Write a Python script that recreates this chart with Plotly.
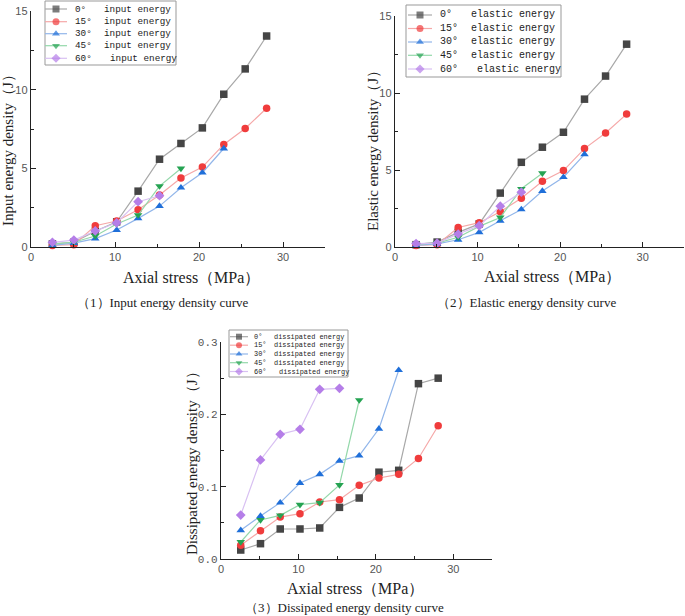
import plotly.graph_objects as go

W, H = 685, 616

stress = [2.55, 5.1, 7.65, 10.2, 12.75, 15.3, 17.85, 20.4, 22.95, 25.5, 28.05]
angles = ["0°", "15°", "30°", "45°", "60°"]

input_0 = [0.20, 0.30, 1.00, 1.60, 3.55, 5.58, 6.58, 7.57, 9.71, 11.32, 13.41]
input_15 = [0.10, 0.15, 1.35, 1.65, 2.37, 3.30, 4.38, 5.08, 6.52, 7.53, 8.82]
input_30 = [0.10, 0.25, 0.53, 1.08, 1.82, 2.60, 3.77, 4.72, 6.26]
input_45 = [0.20, 0.30, 0.70, 1.46, 2.03, 3.87, 4.99]
input_60 = [0.30, 0.44, 1.02, 1.54, 2.88, 3.26]

elastic_0 = [0.15, 0.32, 0.95, 1.50, 3.50, 5.50, 6.48, 7.45, 9.60, 11.10, 13.17]
elastic_15 = [0.10, 0.15, 1.27, 1.58, 2.29, 3.17, 4.27, 4.96, 6.39, 7.40, 8.63]
elastic_30 = [0.10, 0.20, 0.47, 0.95, 1.70, 2.44, 3.63, 4.53, 6.02]
elastic_45 = [0.20, 0.25, 0.63, 1.34, 1.92, 3.78, 4.79]
elastic_60 = [0.22, 0.25, 0.84, 1.38, 2.65, 3.56]

dissip_0 = [0.0124, 0.0212, 0.0415, 0.0415, 0.0429, 0.0714, 0.0843, 0.120, 0.1226, 0.2424, 0.250]
dissip_15 = [0.019, 0.039, 0.058, 0.0627, 0.0788, 0.082, 0.1018, 0.112, 0.117, 0.139, 0.1843]
dissip_30 = [0.0396, 0.0594, 0.0779, 0.105, 0.117, 0.1355, 0.1429, 0.180, 0.261]
dissip_45 = [0.0235, 0.054, 0.0604, 0.0751, 0.0779, 0.1023, 0.2198]
dissip_60 = [0.0608, 0.1369, 0.1724, 0.1793, 0.2346, 0.236]

x_ticks = [0, 10, 20, 30]
captions = ["（1）Input energy density curve", "（2）Elastic energy density curve",
            "（3）Dissipated energy density curve"]
y_titles = ["Input energy density（J）", "Elastic energy density（J）",
            "Dissipated energy density（J）"]
x_title = "Axial stress（MPa）"

marker_colors = ["#454545", "#f03c3c", "#1f6fd9", "#25a352", "#b57ee8"]
line_colors = ["#a8a8a8", "#f5a8a8", "#92b6ea", "#94d8aa", "#d8c0f2"]
symbols = ["square", "circle", "triangle-up", "triangle-down", "diamond"]


def px_x(p):
    return p / W


def px_y(p):
    return 1 - p / H


fig = go.Figure()

panels = [
    dict(series=[input_0, input_15, input_30, input_45, input_60], word="input energy",
         xd=[31, 325], yd=[247, 11], yr=[0, 15], ydt=5, yminor=2.5, yfmt=None, ax="", msize=7.5,
         leg=dict(box=[45, 1, 176, 65], rows=[9, 21.7, 33.7, 45.7, 58.3], line=[45, 67], mk=56,
                  tx1=73, tx2=102, tx2b=108, fs=9.3, ms=7)),
    dict(series=[elastic_0, elastic_15, elastic_30, elastic_45, elastic_60], word="elastic energy",
         xd=[395, 684], yd=[247, 16], yr=[0, 15], ydt=5, yminor=2.5, yfmt=None, ax="2", msize=7.5,
         leg=dict(box=[406, 5, 561, 77], rows=[15, 28.5, 42, 55.3, 69], line=[408, 432], mk=420,
                  tx1=438, tx2=469, tx2b=475, fs=10, ms=7)),
    dict(series=[dissip_0, dissip_15, dissip_30, dissip_45, dissip_60], word="dissipated energy",
         xd=[221, 492], yd=[559, 342], yr=[0, 0.3], ydt=0.1, yminor=0.05, yfmt=".1f", ax="3", msize=7.5,
         leg=dict(box=[229, 330, 348, 377], rows=[336.7, 345.2, 354, 362.7, 371.5], line=[230, 248],
                  mk=239, tx1=252, tx2=272, tx2b=277, fs=6.9, ms=6)),
]

layout_extra = {}
shapes = []
annotations = []

for p in panels:
    for i, vals in enumerate(p["series"]):
        fig.add_trace(go.Scatter(
            x=stress[:len(vals)], y=vals, mode="lines+markers",
            name=f"{angles[i]} {p['word']}",
            xaxis="x" + p["ax"], yaxis="y" + p["ax"], showlegend=False,
            line=dict(color=line_colors[i], width=1.2),
            marker=dict(symbol=symbols[i], color=marker_colors[i], size=p["msize"],
                        line=dict(width=0)),
            cliponaxis=False,
        ))
    common_axis = dict(showline=True, linecolor="#222", linewidth=1.2, ticks="inside",
                       tickcolor="#222", showgrid=False, zeroline=False, automargin=False,
                       tickfont=dict(family="Liberation Sans", size=11, color="#555"))
    layout_extra["xaxis" + p["ax"]] = dict(
        common_axis, domain=[px_x(p["xd"][0]), px_x(p["xd"][1])], range=[0, 35],
        anchor="y" + p["ax"], tickvals=x_ticks, ticklen=5,
        minor=dict(tickvals=[5, 15, 25, 35], ticklen=3, ticks="inside", tickcolor="#222"))
    yax = dict(common_axis, domain=[px_y(p["yd"][0]), px_y(p["yd"][1])], range=p["yr"],
               anchor="x" + p["ax"], dtick=p["ydt"], tick0=0, ticklen=5,
               minor=dict(dtick=p["yminor"], ticklen=3, ticks="inside", tickcolor="#222"))
    if p["yfmt"]:
        yax["tickformat"] = p["yfmt"]
        yax["tickfont"] = dict(family="Liberation Mono", size=11, color="#555")
    layout_extra["yaxis" + p["ax"]] = yax

    # compact legend box (Origin style)
    lg = p["leg"]
    b = lg["box"]
    shapes.append(dict(type="rect", xref="paper", yref="paper", layer="below",
                       x0=px_x(b[0]), x1=px_x(b[2]), y0=px_y(b[3]), y1=px_y(b[1]),
                       line=dict(color="#999", width=1), fillcolor="rgba(0,0,0,0)"))
    for i in range(5):
        ry = lg["rows"][i]
        fig.add_trace(go.Scatter(
            x=[lg["line"][0], lg["mk"], lg["line"][1]], y=[ry, ry, ry], mode="lines+markers",
            xaxis="x4", yaxis="y4", showlegend=False, hoverinfo="skip",
            line=dict(color=line_colors[i], width=1.2),
            marker=dict(symbol=symbols[i], color=marker_colors[i], size=[0, lg["ms"], 0],
                        line=dict(width=0)),
            cliponaxis=False,
        ))
        for tx, txt in [(lg["tx1"], angles[i]), (lg["tx2b"] if i == 4 else lg["tx2"], p["word"])]:
            annotations.append(dict(x=px_x(tx), y=px_y(ry), xref="paper", yref="paper", text=txt,
                                    showarrow=False, xanchor="left", yanchor="middle",
                                    font=dict(family="Liberation Mono", size=lg["fs"], color="#222")))

layout_extra["xaxis4"] = dict(domain=[0, 1], range=[0, W], visible=False, anchor="y4",
                              fixedrange=True)
layout_extra["yaxis4"] = dict(domain=[0, 1], range=[H, 0], visible=False, anchor="x4",
                              fixedrange=True)

# axis titles and captions
for (cx, cy, txt) in [(8, 147, y_titles[0]), (373, 147, y_titles[1]), (192, 460, y_titles[2])]:
    annotations.append(dict(x=px_x(cx), y=px_y(cy), xref="paper", yref="paper", text=txt,
                            textangle=-90, showarrow=False, xanchor="center", yanchor="middle",
                            font=dict(family="Liberation Serif", size=15, color="#222")))
for (cx, cy) in [(191, 277), (552, 276), (355, 588)]:
    annotations.append(dict(x=px_x(cx), y=px_y(cy), xref="paper", yref="paper", text=x_title,
                            showarrow=False, xanchor="center", yanchor="middle",
                            font=dict(family="Liberation Serif", size=16, color="#222")))
for (cx, cy, txt) in [(162, 302, captions[0]), (526, 302, captions[1]), (344, 607, captions[2])]:
    annotations.append(dict(x=px_x(cx), y=px_y(cy), xref="paper", yref="paper", text=txt,
                            showarrow=False, xanchor="center", yanchor="middle",
                            font=dict(family="Liberation Serif", size=13, color="#222")))

fig.update_layout(
    width=W, height=H, margin=dict(l=0, r=0, t=0, b=0, autoexpand=False),
    paper_bgcolor="white", plot_bgcolor="rgba(0,0,0,0)",
    annotations=annotations, shapes=shapes, showlegend=False, hovermode=False,
    **layout_extra,
)

fig.write_html("out.html", config={"displayModeBar": False, "staticPlot": True},
               post_script="document.body.style.margin='0';document.body.style.overflow='hidden';")
